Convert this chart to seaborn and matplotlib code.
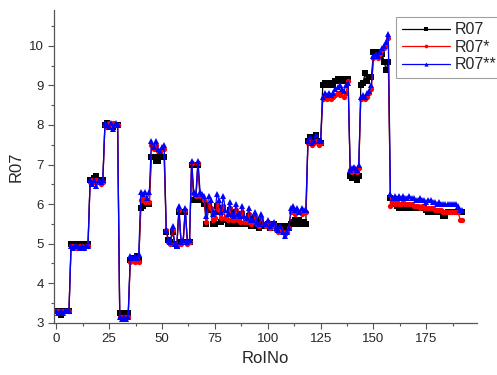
import matplotlib
matplotlib.use('Agg')
import matplotlib.pyplot as plt
import seaborn as sns
import pandas as pd

# R07 (black squares), one value per RoINo, 0..192
r07 = (
    [3.3, 3.3, 3.2, 3.3, 3.3, 3.3, 3.3]
    + [5.0, 5.0, 4.95, 5.0, 5.0, 4.95, 5.0, 5.0, 5.0]
    + [6.6, 6.6, 6.65, 6.7, 6.6, 6.6, 6.6]
    + [8.0, 8.05, 8.0, 8.0, 7.95, 8.0, 8.0]
    + [3.25, 3.25, 3.25, 3.25, 3.25]
    + [4.6, 4.65, 4.6, 4.7, 4.6]
    + [5.9, 5.95, 6.0, 6.0, 6.0]
    + [7.2, 7.2, 7.1, 7.1, 7.2, 7.2, 7.2]
    + [5.3, 5.1, 5.05, 5.3, 5.0, 4.95, 5.8, 5.05, 5.05, 5.8, 5.05, 5.05]
    + [7.0, 6.1, 6.1, 7.0, 6.1, 6.1, 6.0]
    + [5.5, 5.9, 5.85, 5.5, 5.5, 5.95, 5.8, 5.55, 5.9, 5.6,
       5.5, 5.85, 5.5, 5.5, 5.8, 5.5, 5.5, 5.75, 5.5, 5.5,
       5.7, 5.45, 5.45, 5.65, 5.45, 5.4, 5.6, 5.45, 5.45, 5.5,
       5.4, 5.45, 5.5, 5.45, 5.4, 5.45, 5.4, 5.45, 5.45, 5.4]
    + [5.5, 5.55, 5.6, 5.5, 5.6, 5.5, 5.55, 5.5]
    + [7.6, 7.7, 7.6, 7.6, 7.75, 7.6, 7.55]
    + [9.0, 9.05, 9.0, 9.0, 9.05, 9.0, 9.1, 9.15, 9.1, 9.1, 9.15, 9.1, 9.15]
    + [6.7, 6.65, 6.8, 6.6, 6.7]
    + [9.0, 9.05, 9.3, 9.1, 9.2, 9.2]
    + [9.85, 9.8, 9.85, 9.75, 9.8, 9.6, 9.4, 9.6]
    + [6.15, 6.05, 6.0, 5.95, 5.9, 5.9, 5.9, 5.9, 5.9, 5.9,
       5.9, 5.9, 5.9, 5.9, 5.9, 5.9, 5.9, 5.85, 5.8, 5.8,
       5.8, 5.8, 5.8, 5.8, 5.8, 5.7, 5.7, 5.8, 5.8, 5.8,
       5.8, 5.8, 5.8, 5.8, 5.8]
)

# R07* (red circles)
r07s = (
    [3.3, 3.3, 3.3, 3.3, 3.3, 3.3, 3.3]
    + [4.95, 4.95, 4.95, 4.9, 4.95, 4.95, 4.9, 4.95, 4.95]
    + [6.55, 6.6, 6.55, 6.6, 6.55, 6.5, 6.55]
    + [8.0, 7.95, 8.05, 8.0, 8.05, 8.0, 8.0]
    + [3.15, 3.15, 3.15, 3.15, 3.15]
    + [4.55, 4.6, 4.55, 4.6, 4.55]
    + [6.1, 6.15, 6.05, 6.1, 6.05]
    + [7.5, 7.4, 7.5, 7.35, 7.35, 7.4, 7.4]
    + [5.35, 5.05, 5.0, 5.35, 5.0, 4.95, 5.85, 5.0, 5.05, 5.85, 5.0, 5.05]
    + [7.05, 6.25, 6.2, 7.05, 6.2, 6.2, 6.1]
    + [5.55, 6.0, 5.9, 5.6, 5.65, 6.0, 5.85, 5.65, 5.95, 5.65,
       5.6, 5.9, 5.6, 5.6, 5.85, 5.6, 5.55, 5.8, 5.55, 5.55,
       5.75, 5.5, 5.55, 5.7, 5.5, 5.45, 5.65, 5.5, 5.45, 5.55,
       5.4, 5.45, 5.5, 5.35, 5.3, 5.4, 5.3, 5.25, 5.3, 5.4]
    + [5.8, 5.85, 5.75, 5.8, 5.8, 5.75, 5.8, 5.8]
    + [7.55, 7.6, 7.5, 7.55, 7.6, 7.5, 7.55]
    + [8.65, 8.7, 8.65, 8.7, 8.65, 8.7, 8.75, 8.8, 8.75, 8.85, 8.7, 8.8, 9.1]
    + [6.85, 6.8, 6.9, 6.8, 6.9]
    + [8.65, 8.7, 8.65, 8.7, 8.8, 8.9]
    + [9.7, 9.75, 9.7, 9.8, 9.9, 9.95, 10.0, 10.2]
    + [5.95, 6.05, 6.0, 6.05, 6.0, 6.0, 6.05, 6.0, 6.0, 6.0,
       6.0, 5.95, 5.95, 5.95, 5.9, 5.95, 5.9, 5.9, 5.9, 5.9,
       5.9, 5.85, 5.85, 5.85, 5.85, 5.8, 5.8, 5.8, 5.8, 5.8,
       5.8, 5.8, 5.8, 5.6, 5.6]
)

# R07** (blue triangles)
r07ss = (
    [3.3, 3.25, 3.3, 3.25, 3.3, 3.3, 3.3]
    + [4.95, 4.9, 4.95, 4.95, 4.9, 4.95, 4.9, 4.95, 4.95]
    + [6.6, 6.5, 6.6, 6.45, 6.6, 6.55, 6.6]
    + [8.05, 8.0, 7.95, 8.05, 7.9, 8.05, 8.0]
    + [3.15, 3.1, 3.15, 3.1, 3.15]
    + [4.7, 4.65, 4.7, 4.65, 4.75]
    + [6.3, 6.25, 6.3, 6.15, 6.3]
    + [7.6, 7.45, 7.6, 7.4, 7.35, 7.45, 7.5]
    + [5.35, 5.1, 5.05, 5.45, 5.0, 4.95, 5.95, 5.05, 5.1, 5.9, 5.05, 5.1]
    + [7.1, 6.3, 6.25, 7.1, 6.3, 6.25, 6.2]
    + [5.7, 6.2, 6.1, 5.75, 5.8, 6.25, 6.1, 5.8, 6.2, 5.85,
       5.75, 6.05, 5.75, 5.7, 6.0, 5.75, 5.7, 5.95, 5.7, 5.65,
       5.9, 5.6, 5.6, 5.8, 5.55, 5.5, 5.75, 5.5, 5.5, 5.6,
       5.45, 5.5, 5.55, 5.4, 5.35, 5.45, 5.3, 5.2, 5.3, 5.4]
    + [5.9, 5.95, 5.85, 5.9, 5.8, 5.9, 5.85, 5.85]
    + [7.6, 7.7, 7.55, 7.6, 7.75, 7.6, 7.6]
    + [8.7, 8.8, 8.75, 8.8, 8.75, 8.8, 8.9, 8.95, 9.0, 8.9, 8.85, 9.0, 9.05]
    + [6.85, 6.9, 6.95, 6.85, 7.0]
    + [8.7, 8.75, 8.7, 8.8, 8.85, 9.0]
    + [9.75, 9.8, 9.75, 9.85, 9.95, 10.0, 10.1, 10.3]
    + [6.25, 6.15, 6.2, 6.15, 6.2, 6.15, 6.2, 6.15, 6.15, 6.2,
       6.15, 6.15, 6.1, 6.1, 6.15, 6.1, 6.1, 6.05, 6.1, 6.1,
       6.05, 6.05, 6.0, 6.05, 6.0, 6.0, 6.0, 6.0, 6.0, 6.0,
       6.0, 6.0, 5.95, 5.85, 5.85]
)

roino = list(range(len(r07)))

sns.set_style('ticks')
plt.rcParams['font.family'] = ['Liberation Sans', 'DejaVu Sans']

fig = plt.figure(figsize=(4.97, 3.75), dpi=100)
ax = fig.add_axes([0.109, 0.139, 0.851, 0.834])

sns.lineplot(x=roino, y=r07, color='black', marker='s', markersize=3.8,
             markeredgewidth=0, linewidth=0.9, label='R07', ax=ax)
sns.lineplot(x=roino, y=r07s, color='#ff0000', marker='o', markersize=3.8,
             markeredgewidth=0, linewidth=0.9, label='R07*', ax=ax)
sns.lineplot(x=roino, y=r07ss, color='#0000ff', marker='^', markersize=4.3,
             markeredgewidth=0, linewidth=0.9, label='R07**', ax=ax)

ax.set_xlim(-1, 199)
ax.set_ylim(3, 10.9)
ax.set_xticks(range(0, 200, 25))
ax.set_xticks([12.5 + 25 * i for i in range(8)], minor=True)
ax.set_yticks(range(3, 11))
ax.set_yticks([3.5 + i for i in range(8)], minor=True)
ax.tick_params(which='major', length=4, width=0.8, color='#555555', labelsize=9.5)
ax.tick_params(which='minor', length=2.5, width=0.8, color='#555555')
for s in ['top', 'right']:
    ax.spines[s].set_visible(False)
for s in ['left', 'bottom']:
    ax.spines[s].set_color('#555555')
    ax.spines[s].set_linewidth(0.9)

ax.set_xlabel('RoINo', fontsize=12)
ax.set_ylabel('R07', fontsize=12)

leg = ax.legend(loc='upper left', bbox_to_anchor=(0.797, 0.955),
                bbox_transform=fig.transFigure, borderaxespad=0,
                fontsize=11.5, frameon=True, fancybox=False, handlelength=3.0,
                labelspacing=0.15, borderpad=0.35, handletextpad=0.3,
                markerscale=0.7)
leg.get_frame().set_edgecolor('#888888')
leg.get_frame().set_linewidth(0.8)

fig.savefig('out.png', dpi=100)
